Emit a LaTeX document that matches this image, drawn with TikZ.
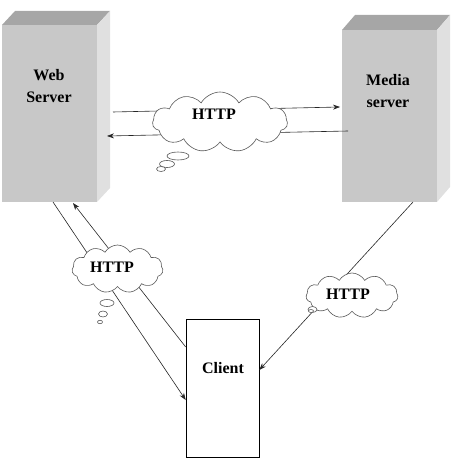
\documentclass[tikz,border=0pt]{standalone}
\usepackage{fontspec}
\setmainfont{Liberation Serif}
\usetikzlibrary{shapes.symbols,shapes.geometric,arrows.meta}
\definecolor{frontgray}{RGB}{200,200,200}
\definecolor{topgray}{RGB}{166,166,166}
\definecolor{sidegray}{RGB}{224,224,224}
\begin{document}
\begin{tikzpicture}[x=1pt,y=-1pt,
  front/.style={draw=none,fill=frontgray,inner sep=0pt,outer sep=0pt},
  lbl/.style={font=\fontsize{16}{22.5}\selectfont\bfseries,align=center,inner sep=0pt},
  cloudn/.style={cloud,cloud puffs=11,cloud puff arc=120,draw=black!65,fill=white,line width=0.6pt,inner sep=0pt},
  bub/.style={ellipse,draw=black!65,fill=white,line width=0.6pt,inner sep=0pt,outer sep=0pt},
  conn/.style={line width=0.6pt,draw=black!85,-{Stealth[length=7pt,width=5pt]}},
  plain/.style={line width=0.6pt,draw=black!85}]
\useasboundingbox (0,0) rectangle (454,462);
% Web server
\node[front,minimum width=95pt,minimum height=177pt] (ws) at (49.5,113.5) {};
\fill[topgray] (ws.north west) -- ++(13,-14) -- ++(95,0) -- (ws.north east) -- cycle;
\fill[sidegray] (ws.north east) -- ++(13,-14) -- ++(0,177) -- (ws.south east) -- cycle;
\node[lbl] (wsl) at (49,86) {Web\\Server};
% Media server
\node[front,minimum width=95pt,minimum height=172pt] (ms) at (389.5,116) {};
\fill[topgray] (ms.north west) -- ++(13,-15) -- ++(95,0) -- (ms.north east) -- cycle;
\fill[sidegray] (ms.north east) -- ++(13,-15) -- ++(0,172) -- (ms.south east) -- cycle;
\node[lbl] (msl) at (388,91) {Media\\server};
% Client
\node[draw=black,line width=0.6pt,fill=white,minimum width=73pt,minimum height=138pt,inner sep=0pt] (cl) at (222.5,388) {};
\node[lbl,anchor=base] (cll) at (223,373) {Client};
% connectors web <-> media
\draw[conn] ([shift={(16,-1.5)}]ws.east) -- ([shift={(-2,-9)}]ms.west);
\draw[conn] ([shift={(6,15)}]ms.west) -- ([shift={(10,22.5)}]ws.east);
% connectors web <-> client
\draw[conn] ([shift={(3.5,0)}]ws.south) -- ([shift={(0,12)}]cl.west);
\draw[conn] ([shift={(0,-41)}]cl.west) -- ([shift={(23.5,1)}]ws.south);
% connector media -> client
\draw[conn] ([shift={(23.5,0)}]ms.south) -- ([shift={(0,-18)}]cl.east);
% cloud 1
\node[cloudn,minimum width=135pt,minimum height=60pt] (c1) at (220,122) {};
\node[lbl,anchor=base] (c1l) at (214,120) {HTTP};
\node[bub,minimum width=22pt,minimum height=8pt] (b11) at (178,156) {};
\node[bub,minimum width=15pt,minimum height=7pt] (b12) at (167,164) {};
\node[bub,minimum width=9pt,minimum height=5pt] (b13) at (161,169) {};
% cloud 2
\node[cloudn,minimum width=91pt,minimum height=48pt] (c2) at (117.5,269) {};
\node[lbl,anchor=base] (c2l) at (112,272) {HTTP};
\node[bub,minimum width=14pt,minimum height=7pt] (b21) at (107,303) {};
\node[bub,minimum width=9pt,minimum height=6pt] (b22) at (103,314) {};
\node[bub,minimum width=5pt,minimum height=3.5pt] (b23) at (100,322) {};
% cloud 3
\node[cloudn,minimum width=92pt,minimum height=45pt] (c3) at (352,295.5) {};
\node[lbl,anchor=base] (c3l) at (348,299) {HTTP};
\node[bub,minimum width=9pt,minimum height=6pt] (b31) at (312.5,309.5) {};
\node[bub,minimum width=5pt,minimum height=3pt] (b32) at (311,311) {};
\end{tikzpicture}
\end{document}
